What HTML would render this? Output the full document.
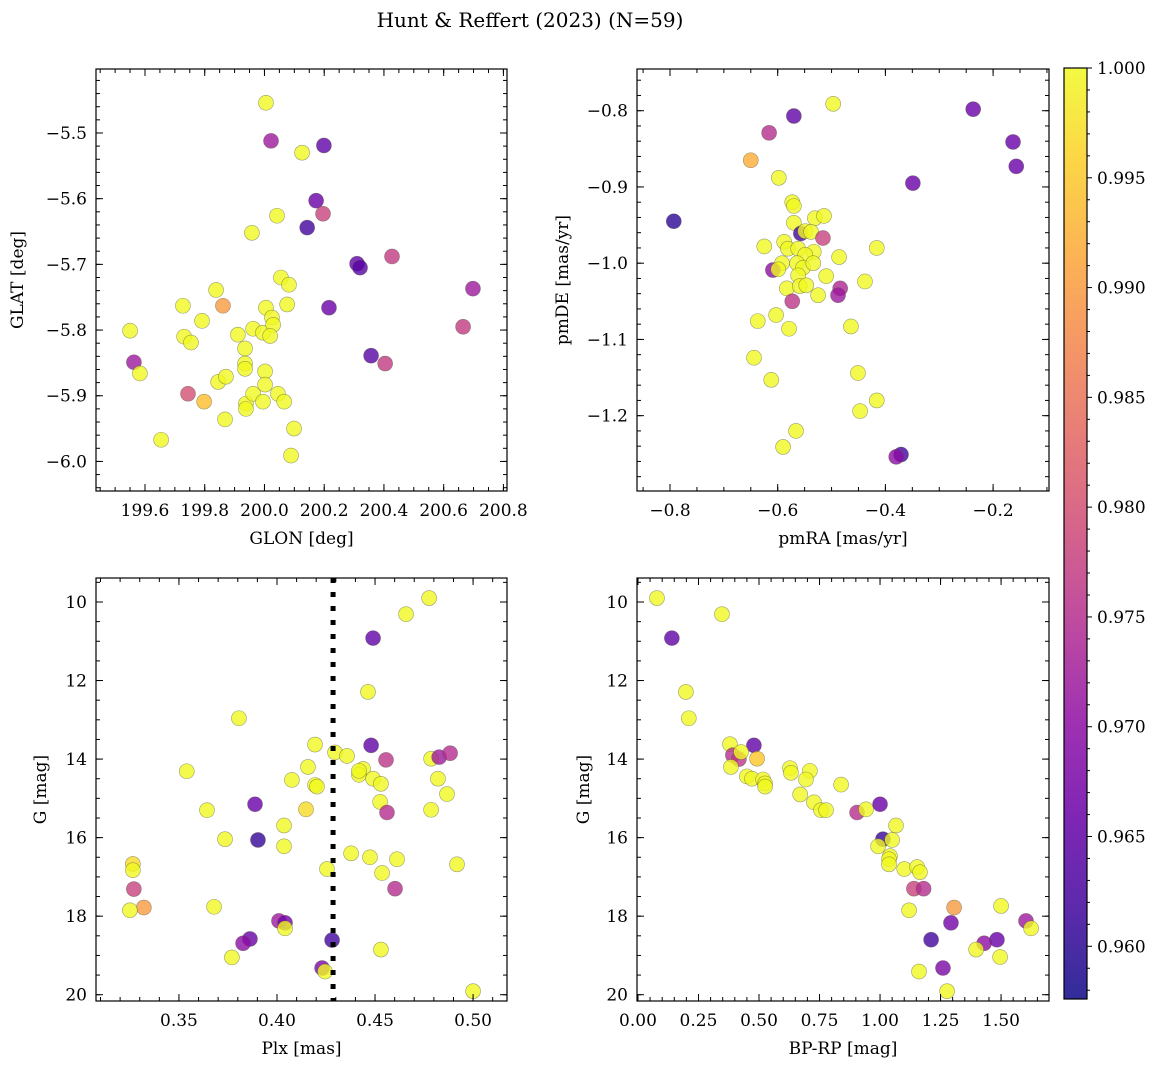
<!DOCTYPE html>
<html><head><meta charset="utf-8">
<style>
html,body{margin:0;padding:0;background:#fff;}
svg{display:block;font-family:"DejaVu Serif","Liberation Serif",serif;}
</style></head>
<body>
<svg id="fig" width="1161" height="1068" viewBox="0 0 1161 1068" xmlns="http://www.w3.org/2000/svg">
<text x="530" y="27" font-size="20" text-anchor="middle">Hunt &amp; Reffert (2023) (N=59)</text>
</svg>
<script>
// ---- Panel 1: GLON / GLAT ----
const p1Lon=[200.022,200.199,200.173,200.196,200.143,200.31,200.32,200.427,200.698,200.665,200.216,200.357,200.404,199.563,199.744,199.861,199.798,
200.005,200.126,200.042,199.958,199.55,199.583,199.654,199.727,199.731,199.754,199.791,199.838,199.845,199.871,199.868,199.911,199.935,199.935,199.935,199.938,199.938,199.962,199.962,199.995,200.005,200.002,200.002,199.995,200.025,200.029,200.019,200.045,200.055,200.082,200.076,200.066,200.099,200.089];
const p1Lat=[-5.512,-5.519,-5.603,-5.623,-5.644,-5.699,-5.705,-5.688,-5.737,-5.795,-5.766,-5.839,-5.851,-5.849,-5.897,-5.763,-5.909,
-5.454,-5.530,-5.626,-5.652,-5.801,-5.866,-5.967,-5.763,-5.810,-5.819,-5.786,-5.739,-5.879,-5.871,-5.936,-5.807,-5.828,-5.851,-5.859,-5.912,-5.92,-5.798,-5.897,-5.804,-5.766,-5.863,-5.883,-5.909,-5.781,-5.792,-5.809,-5.897,-5.720,-5.731,-5.761,-5.909,-5.950,-5.991];
const p1Prob=[0.972,0.965,0.966,0.978,0.962,0.965,0.964,0.977,0.972,0.977,0.966,0.964,0.977,0.972,0.980,0.990,0.994,
1,1,1,1,1,1,1,1,1,1,1,1,1,1,1,1,1,1,1,1,1,1,1,1,1,1,1,1,1,1,1,1,1,1,1,1,1,1];
// ---- Panel 2: pmRA / pmDE ----
const p2Ra=[-0.793,-0.570,-0.616,-0.650,-0.497,-0.237,-0.163,-0.157,-0.349,-0.598,-0.573,-0.570,-0.531,-0.514,-0.570,-0.557,-0.549,-0.538,-0.516,-0.625,-0.588,-0.581,-0.562,-0.533,-0.549,-0.486,-0.416,-0.592,-0.609,-0.599,-0.564,-0.553,-0.534,-0.562,-0.510,-0.438,-0.583,-0.559,-0.547,-0.484,-0.488,-0.525,-0.573,-0.637,-0.603,-0.579,-0.464,-0.644,-0.612,-0.451,-0.416,-0.447,-0.566,-0.590,-0.371,-0.380];
const p2De=[-0.945,-0.807,-0.829,-0.865,-0.791,-0.798,-0.841,-0.873,-0.895,-0.888,-0.920,-0.925,-0.941,-0.938,-0.947,-0.961,-0.958,-0.959,-0.967,-0.978,-0.972,-0.981,-0.981,-0.985,-0.989,-0.992,-0.980,-1.000,-1.009,-1.008,-1.000,-1.006,-1.000,-1.016,-1.017,-1.024,-1.033,-1.030,-1.029,-1.033,-1.042,-1.042,-1.050,-1.076,-1.068,-1.086,-1.083,-1.124,-1.153,-1.144,-1.180,-1.194,-1.220,-1.241,-1.251,-1.254];
const p2Prob=[0.960,0.965,0.975,0.992,1,0.966,0.966,0.966,0.966,1,1,1,1,1,1,0.962,1,1,0.978,1,1,1,1,1,1,1,1,1,0.970,1,1,1,1,1,1,1,1,1,1,0.974,0.972,1,0.976,1,1,1,1,1,1,1,1,1,1,1,0.962,0.970];
// ---- Panel 3: Plx / G ----
const p3Plx=[0.4776,0.4658,0.449,0.4464,0.3806,0.354,0.4194,0.4296,0.4357,0.448,0.4556,0.4786,0.4827,0.4883,0.4158,0.4439,0.4418,0.4418,0.4076,0.449,0.453,0.4821,0.4194,0.4204,0.4867,0.3888,0.4526,0.4561,0.4786,0.3643,0.4148,0.4036,0.3903,0.3735,0.4036,0.4378,0.4474,0.4612,0.4918,0.4255,0.4536,0.3265,0.3265,0.327,0.4602,0.3321,0.325,0.3679,0.401,0.4041,0.4041,0.3862,0.3827,0.4281,0.453,0.377,0.423,0.4245,0.50];
const p3G=[9.9,10.31,10.92,12.29,12.96,14.31,13.63,13.83,13.92,13.65,14.02,13.99,13.95,13.85,14.2,14.25,14.4,14.3,14.53,14.5,14.63,14.5,14.66,14.7,14.89,15.15,15.09,15.36,15.29,15.3,15.28,15.69,16.06,16.04,16.22,16.4,16.5,16.55,16.68,16.8,16.9,16.67,16.83,17.31,17.3,17.78,17.85,17.76,18.12,18.17,18.31,18.58,18.69,18.61,18.85,19.05,19.32,19.41,19.91];
const p3Prob=[1,1,0.965,1,1,1,1,1,1,0.965,0.976,1,0.972,0.975,1,1,1,1,1,1,1,1,1,1,1,0.966,1,0.975,1,1,0.997,1,0.961,1,1,1,1,1,1,1,1,0.997,1,0.978,0.975,0.990,1,1,0.972,0.967,1,0.966,0.970,0.962,1,1,0.968,1,1];
// ---- Panel 4: BP-RP / G ----
const p4Col=[0.0785,0.347,0.140,0.198,0.21,0.38,0.479,0.392,0.417,0.426,0.492,0.384,0.45,0.471,0.517,0.525,0.525,0.628,0.632,0.71,0.694,0.839,0.67,0.727,0.756,0.777,0.905,0.942,1.0,1.066,1.012,1.05,0.992,1.041,1.037,1.037,1.1,1.153,1.165,1.14,1.18,1.12,1.306,1.5,1.293,1.603,1.624,1.211,1.483,1.43,1.397,1.496,1.161,1.26,1.277];
const p4G=[9.9,10.31,10.92,12.29,12.96,13.62,13.65,13.9,14.0,13.82,13.99,14.2,14.44,14.5,14.52,14.62,14.7,14.23,14.35,14.3,14.52,14.65,14.9,15.1,15.3,15.3,15.36,15.28,15.15,15.69,16.04,16.06,16.22,16.47,16.55,16.68,16.8,16.75,16.88,17.3,17.3,17.85,17.78,17.74,18.17,18.12,18.31,18.6,18.6,18.69,18.85,19.04,19.41,19.32,19.91];
const p4Prob=[1,1,0.965,1,1,1,0.965,0.975,0.976,1,0.995,1,1,1,1,1,1,1,1,1,1,1,1,1,1,1,0.975,1,0.966,1,0.961,1,1,1,1,1,1,1,1,0.978,0.975,1,0.990,1,0.967,0.972,1,0.962,0.966,0.970,1,1,1,0.968,1];
const vmin=0.9576, vmax=1.0;
const plxCut=0.4286;

const NS="http://www.w3.org/2000/svg";
const svg=document.getElementById('fig');
function el(tag,attrs,parent){const e=document.createElementNS(NS,tag);for(const k in attrs)e.setAttribute(k,attrs[k]);(parent||svg).appendChild(e);return e;}
const stops=["#0d0887","#41049d","#6a00a8","#8f0da4","#b12a90","#cc4778","#e16462","#f2844b","#fca636","#fcce25","#f0f921"];
function hex(h){return [parseInt(h.substr(1,2),16),parseInt(h.substr(3,2),16),parseInt(h.substr(5,2),16)];}
function plasma(t){t=Math.max(0,Math.min(1,t));const f=t*10,i=Math.min(9,Math.floor(f)),u=f-i;const a=hex(stops[i]),b=hex(stops[i+1]);
return "rgb("+a.map((v,k)=>Math.round(v+(b[k]-v)*u)).join(",")+")";}

function fmt(v,d){let s=v.toFixed(d);if(v<0&&Math.abs(v)>1e-9)s="\u2212"+s.substr(1);return s;}

function panel(cfg){
  const {L,T,W,H,x0,x1,y0,y1,name}=cfg;
  const sx=v=>L+(v-x0)/(x1-x0)*W;
  const sy=v=>T+(v-y0)/(y1-y0)*H;
  const g=el('g',{});
  
  
  el('rect',{x:L,y:T,width:W,height:H,fill:'#fff',stroke:'none'},g);
  // points
  const pg=el('g',{},g);
  
  
  for(let i=0;i<cfg.xs.length;i++){
    const c=el('circle',{cx:sx(cfg.xs[i]),cy:sy(cfg.ys[i]),r:7.5,fill:plasma((cfg.ps[i]-vmin)/(vmax-vmin)),'fill-opacity':0.8,stroke:'rgba(80,80,60,0.55)','stroke-width':0.6},pg);
    
    
  }
  if(cfg.extra)cfg.extra(g,sx,sy);
  // ticks
  const tg=el('g',{stroke:'#000','stroke-width':1},g);
  function ticksX(step,len,minor){
    const s=Math.ceil(Math.min(x0,x1)/step-1e-6);
    for(let k=s;k*step<=Math.max(x0,x1)+1e-9;k++){const v=k*step,x=sx(v);
      el('line',{x1:x,y1:T+H,x2:x,y2:T+H-len},tg);el('line',{x1:x,y1:T,x2:x,y2:T+len},tg);
      if(!minor){const t=el('text',{x:x,y:T+H+25,'font-size':17,'text-anchor':'middle',stroke:'none',fill:'#000'},g);t.textContent=fmt(v,cfg.xd);
        }}
  }
  function ticksY(step,len,minor){
    const lo=Math.min(y0,y1),hi=Math.max(y0,y1);const s=Math.ceil(lo/step-1e-6);
    for(let k=s;k*step<=hi+1e-9;k++){const v=k*step,y=sy(v);
      el('line',{x1:L,y1:y,x2:L+len,y2:y},tg);el('line',{x1:L+W,y1:y,x2:L+W-len,y2:y},tg);
      if(!minor){const t=el('text',{x:L-9,y:y+6,'font-size':17,'text-anchor':'end',stroke:'none',fill:'#000'},g);t.textContent=fmt(v,cfg.yd);
        }}
  }
  ticksX(cfg.xmaj,7,false);ticksX(cfg.xmin,4,true);ticksY(cfg.ymaj,7,false);ticksY(cfg.ymin,4,true);
  el('rect',{x:L,y:T,width:W,height:H,fill:'none',stroke:'#000','stroke-width':1.2},g);
  const xl=el('text',{x:L+W/2,y:T+H+53,'font-size':17,'text-anchor':'middle'},g);xl.textContent=cfg.xlabel;
  
  const yx=cfg.ylx,yy=T+H/2;
  const yl=el('text',{x:yx,y:yy,'font-size':17,'text-anchor':'middle',transform:'rotate(-90 '+yx+' '+yy+')'},g);yl.textContent=cfg.ylabel;
  
}

panel({name:'glon-glat-panel',L:96,T:69,W:411,H:422,x0:199.436,x1:200.812,y0:-5.4026,y1:-6.045,xs:p1Lon,ys:p1Lat,ps:p1Prob,
  xmaj:0.2,xmin:0.05,ymaj:0.1,ymin:0.02,xd:1,yd:1,xlabel:'GLON [deg]',ylabel:'GLAT [deg]',ylx:23});
panel({name:'pm-panel',L:637,T:69,W:412,H:422,x0:-0.8613,x1:-0.0962,y0:-0.7453,y1:-1.2988,xs:p2Ra,ys:p2De,ps:p2Prob,
  xmaj:0.2,xmin:0.05,ymaj:0.1,ymin:0.02,xd:1,yd:1,xlabel:'pmRA [mas/yr]',ylabel:'pmDE [mas/yr]',ylx:568});
panel({name:'plx-g-panel',L:96,T:578,W:411,H:423,x0:0.3077,x1:0.5173,y0:9.389,y1:20.16,xs:p3Plx,ys:p3G,ps:p3Prob,
  xmaj:0.05,xmin:0.01,ymaj:2,ymin:0.5,xd:2,yd:0,xlabel:'Plx [mas]',ylabel:'G [mag]',ylx:46,
  extra:(g,sx,sy)=>{const l=el('line',{x1:sx(plxCut),y1:578,x2:sx(plxCut),y2:1001,stroke:'#000','stroke-width':5,'stroke-dasharray':'5 9'},g);
    }});
panel({name:'cmd-panel',L:637,T:578,W:412,H:423,x0:-0.004,x1:1.698,y0:9.389,y1:20.16,xs:p4Col,ys:p4G,ps:p4Prob,
  xmaj:0.25,xmin:0.05,ymaj:2,ymin:0.5,xd:2,yd:0,xlabel:'BP-RP [mag]',ylabel:'G [mag]',ylx:589});

// colorbar
const cb=el('g',{});


const defs=el('defs',{},cb);
const lg=el('linearGradient',{id:'cbg',x1:0,y1:1,x2:0,y2:0},defs);
for(let i=0;i<=20;i++){el('stop',{offset:(i/20),'stop-color':plasma(i/20),'stop-opacity':0.85},lg);}
const CT=68,CB=999,CL=1064,CW=23;
el('rect',{x:CL,y:CT,width:CW,height:CB-CT,fill:'url(#cbg)',stroke:'#000','stroke-width':1.2},cb);
const cy=v=>CB-(v-vmin)/(vmax-vmin)*(CB-CT);
const cbTicks=[0.960,0.965,0.970,0.975,0.980,0.985,0.990,0.995,1.000];
for(const v of cbTicks){const y=cy(v);el('line',{x1:CL+CW,y1:y,x2:CL+CW+5,y2:y,stroke:'#000'},cb);
  const t=el('text',{x:CL+CW+10,y:y+6,'font-size':17},cb);t.textContent=v.toFixed(3);
  }
for(let k=958;k<=1000;k++){const v=k/1000;if(k%5===0)continue;const y=cy(v);el('line',{x1:CL+CW,y1:y,x2:CL+CW+3,y2:y,stroke:'#000'},cb);}
</script>
</body></html>
